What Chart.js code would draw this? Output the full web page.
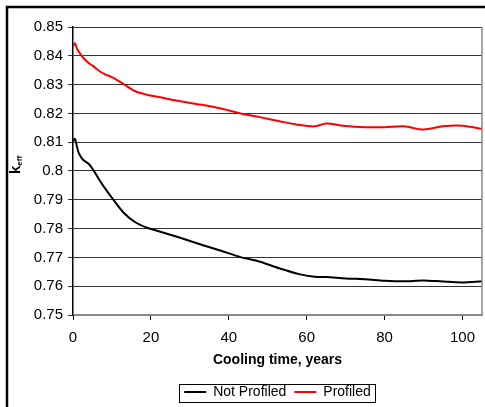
<!DOCTYPE html>
<html lang="en">
<head>
    <meta charset="UTF-8">
    <title>keff vs cooling time</title>
    <script src="https://cdn.jsdelivr.net/npm/chart.js"></script>
    <style>
        html, body { margin: 0; padding: 0; background: #fff; }
        #wrap { width: 485px; height: 407px; position: relative; }
    </style>
</head>
<body>
    <div id="wrap"><canvas id="chart"></canvas></div>

    <script>
        // cooling time, years
        const years = [0, 0.5, 1, 1.5, 2.5, 4, 5, 6.5, 8, 10, 13, 16, 19, 22, 27.5, 33, 38, 43, 48, 53, 58, 62, 65, 70, 75, 80, 85, 90, 95, 100, 105];
        const notProfiled = [0.8103, 0.8112, 0.8085, 0.8062, 0.8040, 0.8025, 0.8008, 0.7975, 0.7944, 0.7907, 0.7855, 0.7822, 0.7803, 0.7791, 0.7768, 0.7744, 0.7723, 0.7701, 0.7685, 0.7662, 0.7642, 0.7633, 0.7632, 0.7627, 0.7624, 0.7619, 0.7617, 0.7620, 0.7616, 0.7613, 0.7617];
        const profiled = [0.8434, 0.8443, 0.8425, 0.8414, 0.8395, 0.8375, 0.8366, 0.8350, 0.8337, 0.8326, 0.8302, 0.8277, 0.8265, 0.8257, 0.8242, 0.8230, 0.8217, 0.8200, 0.8187, 0.8173, 0.8160, 0.8155, 0.8165, 0.8156, 0.8152, 0.8152, 0.8155, 0.8144, 0.8155, 0.8157, 0.8146];
        const seriesNames = ['Not Profiled', 'Profiled'];
        const xTicks = [0, 20, 40, 60, 80, 100];
        const yTicks = [0.75, 0.76, 0.77, 0.78, 0.79, 0.8, 0.81, 0.82, 0.83, 0.84, 0.85];

        const FONT = 'Arial, "Liberation Sans", sans-serif';

        // outer frame, right edge of the plot, y title, legend box
        const extras = {
            id: 'extras',
            afterLayout(chart) {
                // centre the legend under the plot area, not the canvas
                const lg = chart.legend;
                const area = chart.chartArea;
                const dx = (area.left + area.right) / 2 - (lg.left + lg.right) / 2;
                const dy = 2;
                lg.left += dx;
                lg.right += dx;
                lg.top += dy;
                lg.bottom += dy;
                lg.legendHitBoxes.forEach(b => { b.left += dx; b.top += dy; });
            },
            afterDraw(chart) {
                const ctx = chart.ctx;
                const area = chart.chartArea;
                ctx.save();

                ctx.strokeStyle = '#000';
                ctx.lineWidth = 2.5;
                ctx.strokeRect(7, 7, 500, 420);

                ctx.strokeStyle = '#888';
                ctx.lineWidth = 1.5;
                ctx.beginPath();
                ctx.moveTo(area.right, area.top);
                ctx.lineTo(area.right, area.bottom);
                ctx.stroke();

                // k_eff
                ctx.translate(20, 165);
                ctx.rotate(-Math.PI / 2);
                ctx.fillStyle = '#000';
                ctx.textBaseline = 'alphabetic';
                ctx.font = 'bold 15px ' + FONT;
                const kw = ctx.measureText('k').width;
                ctx.font = 'bold 8px ' + FONT;
                const ew = ctx.measureText('eff').width;
                const start = -(kw + ew) / 2;
                ctx.font = 'bold 15px ' + FONT;
                ctx.fillText('k', start, 0);
                ctx.font = 'bold 8px ' + FONT;
                ctx.fillText('eff', start + kw, 2);
                ctx.restore();

                // box round the legend
                const boxes = chart.legend.legendHitBoxes;
                if (boxes && boxes.length) {
                    const l = Math.min(...boxes.map(b => b.left)) - 5;
                    const r = Math.max(...boxes.map(b => b.left + b.width)) + 4;
                    const t = Math.min(...boxes.map(b => b.top)) - 3;
                    const b2 = Math.max(...boxes.map(b => b.top + b.height)) + 1;
                    ctx.save();
                    ctx.strokeStyle = '#000';
                    ctx.lineWidth = 1;
                    ctx.strokeRect(Math.round(l) + 0.5, Math.round(t) + 0.5, Math.round(r - l), Math.round(b2 - t));
                    ctx.restore();
                }
            }
        };

        new Chart(document.getElementById('chart'), {
            type: 'line',
            data: {
                datasets: [
                    {
                        label: seriesNames[0],
                        data: years.map((x, i) => ({ x, y: notProfiled[i] })),
                        borderColor: '#000',
                        backgroundColor: '#000',
                        borderWidth: 2,
                        pointRadius: 0,
                        tension: 0.3,
                        fill: false
                    },
                    {
                        label: seriesNames[1],
                        data: years.map((x, i) => ({ x, y: profiled[i] })),
                        borderColor: '#ff0000',
                        backgroundColor: '#ff0000',
                        borderWidth: 2,
                        pointRadius: 0,
                        tension: 0.3,
                        fill: false
                    }
                ]
            },
            options: {
                responsive: true,
                maintainAspectRatio: false,
                animation: false,
                layout: { padding: { top: 27, right: 3, left: 0, bottom: 0 } },
                plugins: {
                    tooltip: { enabled: false },
                    legend: {
                        position: 'bottom',
                        labels: {
                            usePointStyle: true,
                            pointStyle: 'line',
                            pointStyleWidth: 22,
                            color: '#000',
                            padding: 8,
                            font: { family: FONT, size: 14 }
                        }
                    }
                },
                scales: {
                    x: {
                        type: 'linear',
                        min: 0,
                        max: 105,
                        afterBuildTicks: s => { s.ticks = xTicks.map(v => ({ value: v })); },
                        afterFit: s => { s.height = 60; },
                        ticks: {
                            color: '#000',
                            padding: 9,
                            maxRotation: 0,
                            font: { family: FONT, size: 15 }
                        },
                        grid: { drawOnChartArea: false, tickLength: 5, color: '#000' },
                        border: { color: '#888', width: 2 },
                        title: {
                            display: true,
                            text: 'Cooling time, years',
                            color: '#000',
                            padding: { top: 4, bottom: 6 },
                            font: { family: FONT, size: 14, weight: 'bold' }
                        }
                    },
                    y: {
                        min: 0.75,
                        max: 0.85,
                        afterBuildTicks: s => { s.ticks = yTicks.map(v => ({ value: v })); },
                        afterFit: s => { s.width = 73; },
                        ticks: {
                            color: '#000',
                            padding: 5,
                            font: { family: FONT, size: 15 },
                            callback: v => String(parseFloat(v.toFixed(2)))
                        },
                        grid: { color: '#333', lineWidth: 1, tickLength: 5 },
                        border: { color: '#000', width: 1.5 }
                    }
                }
            },
            plugins: [extras]
        });
    </script>
</body>
</html>
